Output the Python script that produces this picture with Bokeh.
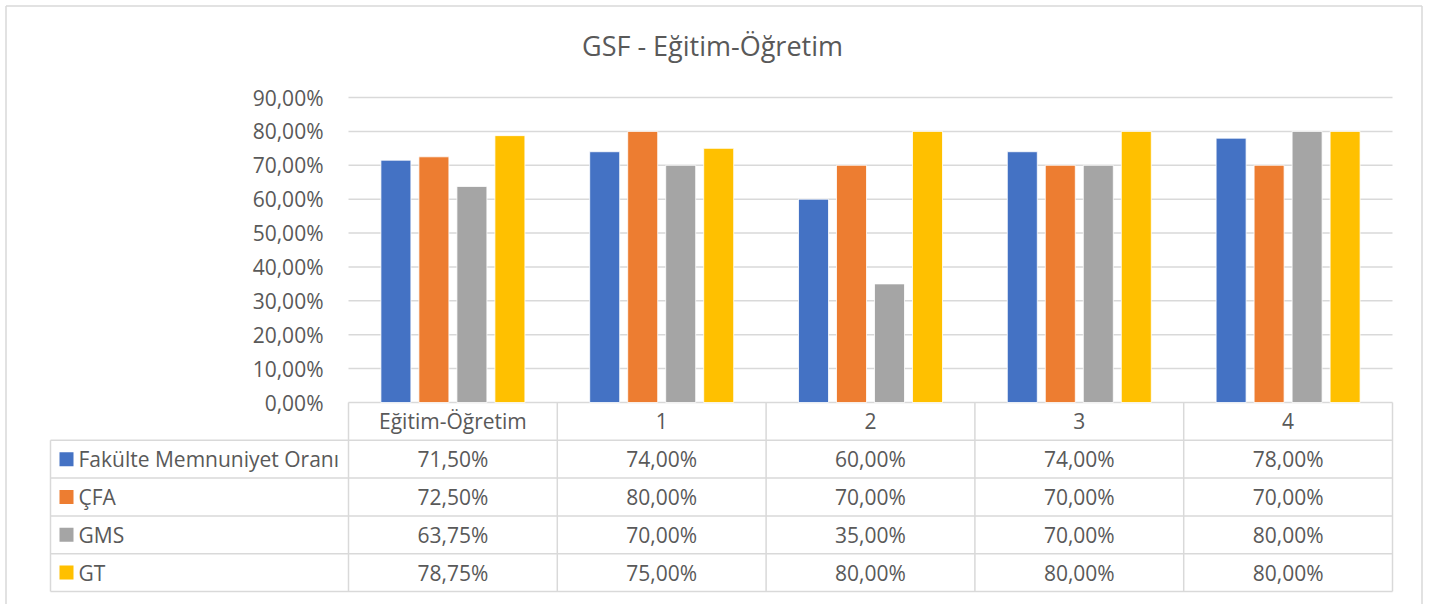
from bokeh.plotting import figure
from bokeh.models import ColumnDataSource, Range1d, FixedTicker, LinearAxis
from bokeh.transform import dodge
from bokeh.core.properties import value
from bokeh.embed import file_html
from bokeh.resources import INLINE

# ---------------- data ----------------
title_text = "GSF - Eğitim-Öğretim"
categories = ["Eğitim-Öğretim", "1", "2", "3", "4"]
series_names = ["Fakülte Memnuniyet Oranı", "ÇFA", "GMS", "GT"]
fakulte = [71.50, 74.00, 60.00, 74.00, 78.00]
cfa = [72.50, 80.00, 70.00, 70.00, 70.00]
gms = [63.75, 70.00, 35.00, 70.00, 80.00]
gt = [78.75, 75.00, 80.00, 80.00, 80.00]
series_colors = ["#4472C4", "#ED7D31", "#A5A5A5", "#FFC000"]
y_ticks = [0, 10, 20, 30, 40, 50, 60, 70, 80, 90]
y_tick_labels = ["0,00%", "10,00%", "20,00%", "30,00%", "40,00%",
                 "50,00%", "60,00%", "70,00%", "80,00%", "90,00%"]


def pct(v):
    return f"{v:.2f}".replace(".", ",") + "%"


series = [fakulte, cfa, gms, gt]

# ---------------- styling / geometry (page pixels) ----------------
FONT = value("Open Sans")
TXT = "#595959"
GRID = "#D9D9D9"
LW = 1.5
W, H = 1429, 604
X0, X1 = 348, 1392            # plot area left/right
Y0, Y90 = 402, 97             # pixel rows of 0% and 90%
n = len(categories)
PX = (X1 - X0) / n            # px per category
S = (Y0 - Y90) / 90           # px per percent
ROW_H = (591 - Y0) / 5        # data-table row height


def xp(px):
    return (px - X0) / PX


def yp(py):
    return (Y0 - py) / S


def row_y(k):
    """table row boundary k (0 = top of header) in percent units"""
    return -(k * ROW_H) / S


p = figure(width=W, height=H,
           x_range=Range1d(xp(0), xp(W)), y_range=Range1d(yp(H), yp(0)),
           x_axis_location=None, y_axis_location=None,
           output_backend="svg", toolbar_location=None,
           min_border_left=0, min_border_right=0, min_border_top=0, min_border_bottom=0)
p.outline_line_color = None
p.background_fill_color = "white"
p.border_fill_color = "white"
for g in p.grid:
    g.visible = False

# value axis (drawn at a fixed location left of the plot area)
ticker = FixedTicker(ticks=y_ticks)
yax = LinearAxis(ticker=ticker, fixed_location=xp(340))
yax.major_label_overrides = {t: lab for t, lab in zip(y_ticks, y_tick_labels)}
yax.axis_line_color = None
yax.major_tick_line_color = None
yax.minor_tick_line_color = None
yax.major_label_standoff = 11
yax.major_label_text_font = "Open Sans"
yax.major_label_text_font_size = "21px"
yax.major_label_text_color = TXT
p.add_layout(yax, "left")

# horizontal gridlines across the plot area only
p.segment(x0=[0] * len(y_ticks), y0=y_ticks, x1=[n] * len(y_ticks), y1=y_ticks,
          line_color=GRID, line_width=LW)

# bars
src = ColumnDataSource(dict(xc=[i + 0.5 for i in range(n)],
                            s0=fakulte, s1=cfa, s2=gms, s3=gt))
step = 38 / PX
bw = 30 / PX
for i, col in enumerate(series_colors):
    p.vbar(x=dodge("xc", (i - 1.5) * step), top=f"s{i}", width=bw, source=src,
           fill_color=col, line_color="white", line_width=0.8)

# title
p.text(x=[xp(712)], y=[yp(45)], text=[title_text],
       text_align="center", text_baseline="middle", text_font=FONT,
       text_font_size=value("27px"), text_color=TXT)

# outer chart border
bx0, bx1, by0 = xp(5.5), xp(1421.5), yp(5.5)
p.segment(x0=[bx0, bx0, bx1], y0=[yp(H + 2), by0, yp(H + 2)],
          x1=[bx0, bx1, bx1], y1=[by0, by0, by0], line_color=GRID, line_width=LW)

# data table grid
L = xp(50)
vx = list(range(n + 1))
p.segment(x0=vx, y0=[row_y(0)] * (n + 1), x1=vx, y1=[row_y(5)] * (n + 1),
          line_color=GRID, line_width=LW)
p.segment(x0=[L], y0=[row_y(1)], x1=[L], y1=[row_y(5)], line_color=GRID, line_width=LW)
hy = [row_y(k) for k in range(1, 6)]
p.segment(x0=[L] * 5, y0=hy, x1=[n] * 5, y1=hy, line_color=GRID, line_width=LW)

# header labels
p.text(x=[i + 0.5 for i in range(n)], y=[row_y(0.5)] * n, text=categories,
       text_align="center", text_baseline="middle", text_font=FONT,
       text_font_size=value("21px"), text_color=TXT)
# values
tx, ty, tt = [], [], []
for r, s in enumerate(series):
    for i, v in enumerate(s):
        tx.append(i + 0.5)
        ty.append(row_y(r + 1.5))
        tt.append(pct(v))
p.text(x=tx, y=ty, text=tt, text_align="center", text_baseline="middle",
       text_font=FONT, text_font_size=value("21px"), text_color=TXT)

# row labels with colour keys
rows_y = [row_y(r + 1.5) for r in range(len(series_names))]
p.scatter(x=[xp(66)] * len(series_names), y=rows_y, marker="square", size=14,
          fill_color=series_colors, line_color=None)
p.text(x=[xp(78)] * len(series_names), y=rows_y, text=series_names,
       text_align="left", text_baseline="middle", text_font=FONT,
       text_font_size=value("21px"), text_color=TXT)

open("out.html", "w").write(file_html(p, INLINE))
